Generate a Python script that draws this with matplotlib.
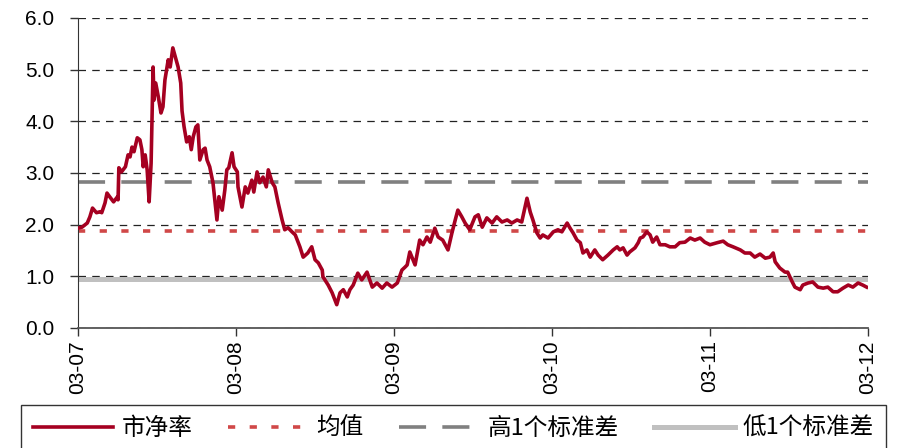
import numpy as np
import matplotlib
matplotlib.use("Agg")
import matplotlib.pyplot as plt
from matplotlib.lines import Line2D

plt.rcParams['font.family'] = ['Liberation Sans', 'Noto Sans CJK SC', 'DejaVu Sans']

# months since the first tick, and price-to-book values
months = [0.0, 0.3, 0.7, 0.9, 1.1, 1.4, 1.7, 1.8, 2.05, 2.2, 2.4, 2.7, 3.0, 3.04, 3.1,
          3.3, 3.6, 3.8, 3.95, 4.1, 4.25, 4.5, 4.7, 4.85, 4.95, 5.1, 5.25, 5.4, 5.55,
          5.7, 5.77, 5.9, 6.1, 6.3, 6.45, 6.6, 6.85, 7.0, 7.2, 7.45, 7.6, 7.8, 7.9,
          8.05, 8.25, 8.45, 8.6, 8.75, 8.95, 9.1, 9.25, 9.5, 9.65, 9.8, 10.0, 10.25,
          10.55, 10.7, 10.95, 11.15, 11.3, 11.45, 11.7, 11.85, 12.1, 12.15, 12.45,
          12.7, 12.9, 13.2, 13.35, 13.6, 13.8, 14.05, 14.3, 14.45, 14.75, 14.95, 15.2,
          15.5, 15.7, 15.95, 16.25, 16.5, 16.85, 17.1, 17.45, 17.75, 18.0, 18.25,
          18.55, 18.6, 19.0, 19.3, 19.65, 19.9, 20.15, 20.45, 20.65, 20.9, 21.25,
          21.55, 21.95, 22.35, 22.7, 23.1, 23.45, 23.85, 24.25, 24.6, 24.85, 25.0,
          25.2, 25.6, 25.95, 26.2, 26.5, 26.75, 27.1, 27.35, 27.7, 28.1, 28.4, 28.65,
          28.85, 29.15, 29.4, 29.75, 30.15, 30.4, 30.7, 31.05, 31.45, 31.8, 32.2,
          32.6, 32.95, 33.35, 33.7, 33.95, 34.1, 34.35, 34.55, 34.85, 35.1, 35.3,
          35.7, 36.1, 36.45, 36.75, 37.15, 37.35, 37.6, 37.9, 38.15, 38.35, 38.65,
          38.9, 39.25, 39.5, 39.85, 40.25, 40.65, 40.95, 41.15, 41.4, 41.7, 41.9,
          42.3, 42.55, 42.7, 42.9, 43.2, 43.45, 43.65, 43.95, 44.2, 44.6, 44.95,
          45.35, 45.7, 46.1, 46.5, 46.85, 47.25, 47.6, 48.0, 48.55, 49.0, 49.35,
          49.75, 50.3, 50.65, 51.05, 51.4, 51.8, 52.2, 52.55, 52.8, 52.95, 53.3,
          53.7, 53.9, 54.25, 54.45, 54.85, 55.05, 55.45, 55.8, 56.2, 56.6, 56.95,
          57.35, 57.7, 58.1, 58.5, 58.85, 59.25, 59.6, 59.9]
pb = [1.93, 1.95, 2.03, 2.15, 2.32, 2.23, 2.25, 2.23, 2.42, 2.61, 2.54, 2.44, 2.54, 2.48, 3.10,
      3.02, 3.12, 3.35, 3.31, 3.50, 3.41, 3.68, 3.64, 3.45, 3.12, 3.35, 3.06, 2.44, 3.19,
      5.05, 4.41, 4.74, 4.47, 4.16, 4.28, 4.80, 5.19, 5.05, 5.42, 5.19, 5.05, 4.74, 4.20,
      3.90, 3.60, 3.70, 3.45, 3.70, 3.89, 3.93, 3.25, 3.45, 3.48, 3.25, 3.12, 2.81,
      2.09, 2.54, 2.28, 2.67, 3.06, 3.10, 3.39, 3.12, 3.02, 2.73, 2.34,
      2.73, 2.61, 2.86, 2.63, 3.02, 2.81, 2.92, 2.73, 3.06, 2.81, 2.73, 2.42,
      2.09, 1.90, 1.94, 1.86, 1.80, 1.57, 1.37, 1.45, 1.57, 1.32, 1.26,
      1.12, 0.99, 0.83, 0.68, 0.45, 0.68, 0.74, 0.60, 0.74, 0.83, 1.06,
      0.93, 1.08, 0.79, 0.87, 0.77, 0.87, 0.79, 0.87, 1.12, 1.18, 1.22,
      1.47, 1.22, 1.70, 1.61, 1.76, 1.66, 1.93, 1.76, 1.70, 1.51, 1.84, 2.09,
      2.28, 2.15, 2.03, 1.90, 2.15, 2.19, 1.95, 2.13, 2.03, 2.15, 2.05,
      2.09, 2.03, 2.09, 2.05, 2.34, 2.51, 2.24, 2.09, 1.84, 1.74, 1.80,
      1.74, 1.86, 1.90, 1.86, 2.03, 1.94, 1.84, 1.70, 1.65, 1.45, 1.51,
      1.37, 1.51, 1.41, 1.32, 1.41, 1.51, 1.57, 1.51, 1.55, 1.41, 1.47,
      1.55, 1.65, 1.74, 1.76, 1.86, 1.80, 1.66, 1.76, 1.61, 1.61, 1.57,
      1.57, 1.65, 1.66, 1.74, 1.70, 1.74, 1.66, 1.61, 1.65, 1.68, 1.61,
      1.57, 1.51, 1.45, 1.45, 1.37, 1.43, 1.35, 1.37, 1.45, 1.28, 1.16,
      1.08, 1.08, 0.89, 0.79, 0.74, 0.83, 0.87, 0.89, 0.79, 0.77, 0.79,
      0.70, 0.70, 0.77, 0.83, 0.79, 0.87, 0.83, 0.79]

mean_pb = 1.88
high_pb = 2.82
low_pb = 0.95

tick_pos = [0, 12, 24, 36, 48, 60]
tick_labels = ['03-07', '03-08', '03-09', '03-10', '03-11', '03-12']
series_names = ['市净率', '均值', '高1个标准差', '低1个标准差']

fig = plt.figure(figsize=(8.99, 4.48), dpi=100)
ax = fig.add_axes([0.0868, 0.268, 0.8787, 0.692])

red_dash = (2.0, 4.0)
gray_dash = (7.5, 4.5)

ax.axhline(low_pb, color='#c0c0c0', lw=3.6, zorder=2)
ax.axhline(high_pb, color='#808080', lw=2.6, dashes=gray_dash, zorder=2)
ax.axhline(mean_pb, color='#d04848', lw=2.6, dashes=red_dash, zorder=2)
ax.plot(months, pb, color='#a50021', lw=2.6, zorder=3)

ax.set_xlim(0, 60)
ax.set_ylim(0, 6)
ax.set_yticks(np.arange(0, 7, 1))
ax.set_yticklabels([f'{v:.1f}' for v in range(7)])
ax.set_xticks(tick_pos)
ax.set_xticklabels(tick_labels, rotation=90)
ax.tick_params(axis='both', labelsize=15, length=6, width=1, color='#333333')
ax.tick_params(axis='y', pad=11)
ax.tick_params(axis='x', pad=3)
ax.yaxis.grid(True, color='#222222', lw=0.9, dashes=(6, 5))
ax.set_axisbelow(True)
for s in ['top', 'right']:
    ax.spines[s].set_visible(False)
ax.spines['left'].set_color('#333333')
ax.spines['bottom'].set_color('#555555')
ax.spines['bottom'].set_linewidth(1.3)

handles = [
    Line2D([], [], color='#a50021', lw=2.6),
    Line2D([], [], color='#d04848', lw=2.6, dashes=red_dash),
    Line2D([], [], color='#808080', lw=2.6, dashes=gray_dash),
    Line2D([], [], color='#c0c0c0', lw=3.6),
]
leg = fig.legend(handles, series_names, loc='upper center', bbox_to_anchor=(0.5045, 0.096),
                 ncol=4, frameon=True, fancybox=False, edgecolor='black',
                 prop={'family': ['Noto Sans CJK SC', 'DejaVu Sans'], 'size': 17},
                 handlelength=3.4, columnspacing=1.5, handletextpad=0.35,
                 borderpad=0.5, borderaxespad=0)
leg.get_frame().set_linewidth(1.0)

fig.savefig('out.png', dpi=100)
